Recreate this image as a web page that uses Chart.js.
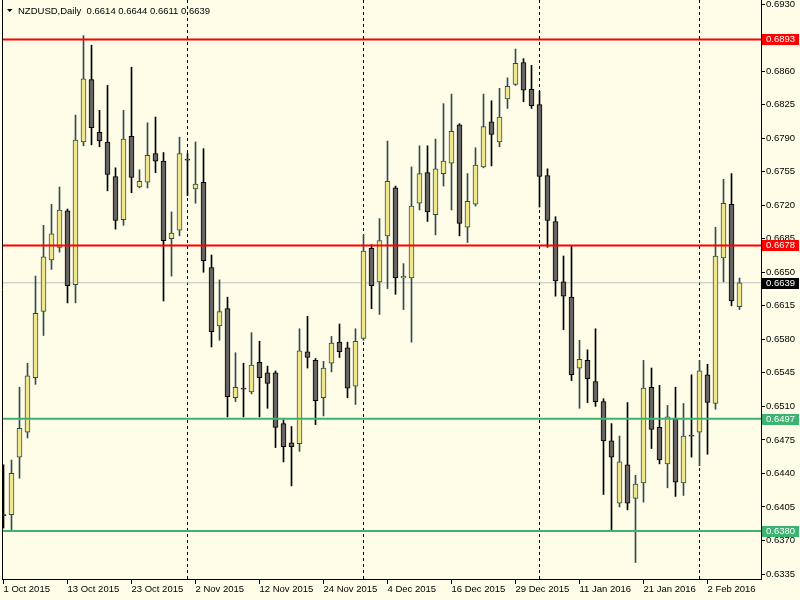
<!DOCTYPE html>
<html><head><meta charset="utf-8">
<script src="https://cdn.jsdelivr.net/npm/chart.js@4/dist/chart.umd.min.js"></script>
<style>html,body{margin:0;padding:0;background:#FFFDE8;}canvas{display:block}</style>
</head><body>
<div style="width:800px;height:600px"><canvas id="c" width="800" height="600"></canvas></div>
<script>
const chartTitle = 'NZDUSD,Daily';
const opens  = [0.6397,0.6397,0.6457,0.6483,0.6540,0.6609,0.6663,0.6676,0.6714,0.6637,0.6786,0.6851,0.6796,0.6786,0.6750,0.6705,0.6792,0.6739,0.6744,0.6774,0.6766,0.6685,0.6694,0.6767,0.6737,0.6744,0.6655,0.6594,0.6612,0.6519,0.6528,0.6525,0.6556,0.6545,0.6545,0.6492,0.6472,0.6471,0.6567,0.6558,0.6519,0.6555,0.6577,0.6571,0.6531,0.6581,0.6675,0.6640,0.6688,0.6738,0.6644,0.6644,0.6722,0.6754,0.6710,0.6753,0.6764,0.6804,0.6697,0.6721,0.6760,0.6807,0.6786,0.6831,0.6846,0.6869,0.6841,0.6825,0.6751,0.6703,0.6640,0.6624,0.6550,0.6558,0.6536,0.6515,0.6474,0.6409,0.6449,0.6414,0.6430,0.6530,0.6488,0.6450,0.6497,0.6430,0.6480,0.6483,0.6543,0.6513,0.6665,0.6721,0.6614];
const highs  = [0.6449,0.6454,0.6530,0.6555,0.6646,0.6699,0.6721,0.6739,0.6716,0.6814,0.6897,0.6887,0.6819,0.6845,0.6759,0.6819,0.6864,0.6757,0.6806,0.6812,0.6775,0.6713,0.6791,0.6774,0.6786,0.6779,0.6668,0.6642,0.6624,0.6566,0.6555,0.6587,0.6578,0.6552,0.6547,0.6496,0.6489,0.6591,0.6604,0.6560,0.6557,0.6583,0.6596,0.6577,0.6591,0.6689,0.6679,0.6706,0.6787,0.6740,0.6659,0.6760,0.6782,0.6782,0.6789,0.6826,0.6836,0.6805,0.6753,0.6780,0.6836,0.6829,0.6842,0.6853,0.6883,0.6873,0.6866,0.6839,0.6758,0.6708,0.6667,0.6678,0.6579,0.6569,0.6591,0.6518,0.6492,0.6479,0.6514,0.6438,0.6558,0.6550,0.6532,0.6511,0.6530,0.6513,0.6543,0.6558,0.6554,0.6697,0.6747,0.6753,0.6644];
const lows   = [0.6383,0.6381,0.6435,0.6477,0.6533,0.6584,0.6653,0.6671,0.6618,0.6618,0.6782,0.6783,0.6781,0.6735,0.6695,0.6699,0.6733,0.6738,0.6738,0.6754,0.6620,0.6646,0.6688,0.6730,0.6722,0.6650,0.6572,0.6579,0.6499,0.6515,0.6499,0.6523,0.6499,0.6508,0.6467,0.6452,0.6427,0.6463,0.6550,0.6491,0.6500,0.6546,0.6561,0.6519,0.6512,0.6579,0.6612,0.6606,0.6633,0.6627,0.6611,0.6577,0.6715,0.6703,0.6689,0.6740,0.6715,0.6688,0.6681,0.6719,0.6759,0.6761,0.6781,0.6821,0.6845,0.6828,0.6821,0.6718,0.6676,0.6625,0.6590,0.6537,0.6508,0.6514,0.6510,0.6418,0.6381,0.6405,0.6402,0.6347,0.6410,0.6466,0.6450,0.6425,0.6416,0.6417,0.6457,0.6448,0.6460,0.6507,0.6640,0.6615,0.6611];
const closes = [0.6396,0.6440,0.6487,0.6542,0.6607,0.6666,0.6690,0.6715,0.6636,0.6788,0.6852,0.6801,0.6787,0.6752,0.6704,0.6789,0.6749,0.6745,0.6772,0.6766,0.6683,0.6691,0.6774,0.6767,0.6742,0.6662,0.6588,0.6609,0.6520,0.6530,0.6528,0.6553,0.6540,0.6534,0.6488,0.6468,0.6468,0.6568,0.6561,0.6516,0.6550,0.6576,0.6567,0.6529,0.6578,0.6672,0.6636,0.6683,0.6745,0.6644,0.6646,0.6719,0.6753,0.6713,0.6758,0.6766,0.6797,0.6701,0.6724,0.6762,0.6802,0.6794,0.6812,0.6844,0.6868,0.6840,0.6824,0.6750,0.6704,0.6641,0.6625,0.6543,0.6559,0.6539,0.6515,0.6474,0.6457,0.6452,0.6409,0.6429,0.6529,0.6486,0.6454,0.6499,0.6431,0.6479,0.6479,0.6547,0.6514,0.6667,0.6722,0.6620,0.6639];
const xTickIndex  = [0,8,16,24,32,40,48,56,64,72,80,88];
const xTickLabels = ['1 Oct 2015','13 Oct 2015','23 Oct 2015','2 Nov 2015','12 Nov 2015','24 Nov 2015','4 Dec 2015','16 Dec 2015','29 Dec 2015','11 Jan 2016','21 Jan 2016','2 Feb 2016'];
const yTicks = [0.6335,0.6370,0.6405,0.6440,0.6475,0.6510,0.6545,0.6580,0.6615,0.6650,0.6685,0.6720,0.6755,0.6790,0.6825,0.6860,0.6895,0.6930];
const separatorIndex = [23,45,67,87];
const resistanceLevels = [0.6893,0.6678];
const supportLevels = [0.6497,0.6380];
const lastPrice = 0.6639;

const BG = '#FFFDE8';
const FONT = '9.5px "Liberation Sans", Arial, sans-serif';
const BULL_FILL = '#F0E68C', BEAR_FILL = '#646464', BULL_LINE = '#2F4F4F', BEAR_LINE = '#000000';
const isBull = i => closes[i] > opens[i];
const XMIN = -0.1875, XMAX = 94.6875;

const levelDataset = (v, color, order) => ({
  type: 'line', data: [{x: XMIN - 1, y: v}, {x: XMAX + 1, y: v}],
  borderColor: color, borderWidth: color === '#C0C0C0' ? 1 : 2, pointRadius: 0, clip: 0, order
});

const chartPlugin = {
  id: 'mt4',
  beforeDraw(chart) {
    const ctx = chart.ctx; ctx.save(); ctx.fillStyle = BG; ctx.fillRect(0, 0, chart.width, chart.height); ctx.restore();
  },
  beforeDatasetsDraw(chart) {
    const {ctx, chartArea: a, scales: {x}} = chart;
    ctx.save(); ctx.strokeStyle = '#000'; ctx.lineWidth = 1; ctx.setLineDash([3, 3]);
    separatorIndex.forEach(i => {
      const px = Math.floor(x.getPixelForValue(i)) + 0.5;
      ctx.beginPath(); ctx.moveTo(px, a.top); ctx.lineTo(px, a.bottom); ctx.stroke();
    });
    ctx.restore();
  },
  afterDraw(chart) {
    const {ctx, chartArea: a, scales: {y}} = chart;
    ctx.save();
    ctx.strokeStyle = '#000'; ctx.lineWidth = 1;
    ctx.beginPath(); ctx.moveTo(a.left + 0.5, a.top); ctx.lineTo(a.left + 0.5, a.bottom); ctx.stroke();
    // header
    ctx.fillStyle = '#000';
    ctx.beginPath(); ctx.moveTo(7, 9); ctx.lineTo(12.5, 9); ctx.lineTo(9.75, 12); ctx.closePath(); ctx.fill();
    ctx.font = FONT; ctx.textBaseline = 'alphabetic'; ctx.textAlign = 'left';
    const n = closes.length - 1;
    ctx.fillText(chartTitle + '  ' + [opens[n], highs[n], lows[n], closes[n]].map(v => v.toFixed(4)).join(' '), 18, 14);
    // price boxes
    const boxes = resistanceLevels.map(v => [v, '#FF0000']).concat(supportLevels.map(v => [v, '#3CB371'])).concat([[lastPrice, '#000000']]);
    ctx.textBaseline = 'middle';
    boxes.forEach(([v, c]) => {
      const py = Math.round(y.getPixelForValue(v));
      ctx.fillStyle = c; ctx.fillRect(a.right + 1, py - 5, 37, 11);
      ctx.fillStyle = '#FFFFFF'; ctx.fillText(v.toFixed(4), a.right + 5, py + 0.5);
    });
    ctx.restore();
  }
};

new Chart(document.getElementById('c'), {
  type: 'bar',
  data: {
    datasets: [
      ...resistanceLevels.map(v => levelDataset(v, '#FF0000', -1)),
      ...supportLevels.map(v => levelDataset(v, '#3CB371', -1)),
      {
        type: 'bar', order: 0, clip: 0,
        data: opens.map((o, i) => ({x: i, y: [o, closes[i]]})),
        backgroundColor: opens.map((o, i) => isBull(i) ? BULL_FILL : BEAR_FILL),
        borderColor: opens.map((o, i) => isBull(i) ? BULL_LINE : BEAR_LINE),
        borderWidth: 1, borderSkipped: false, barThickness: 5, grouped: false, minBarLength: 1
      },
      {
        type: 'bar', order: 1, clip: 0,
        data: lows.map((l, i) => ({x: i, y: [l, highs[i]]})),
        backgroundColor: lows.map((l, i) => isBull(i) ? BULL_LINE : BEAR_LINE),
        borderWidth: 0, barThickness: 1, grouped: false
      },
      levelDataset(lastPrice, '#C0C0C0', 2)
    ]
  },
  options: {
    responsive: false, animation: false, devicePixelRatio: 1,
    layout: {padding: {left: 2, top: 0, right: 0, bottom: 0}},
    plugins: {legend: {display: false}, tooltip: {enabled: false}},
    scales: {
      x: {
        type: 'linear', position: 'bottom', min: XMIN, max: XMAX, offset: false,
        afterFit: s => { s.height = 21; s.paddingLeft = 0; s.paddingRight = 0; },
        afterBuildTicks: s => { s.ticks = xTickIndex.map(v => ({value: v})); },
        ticks: {
          autoSkip: false, maxRotation: 0, minRotation: 0, align: 'start', padding: 0,
          color: '#000', font: {family: '"Liberation Sans", Arial, sans-serif', size: 9.5},
          callback: v => xTickLabels[xTickIndex.indexOf(v)]
        },
        grid: {offset: false, drawOnChartArea: false, drawTicks: true, tickLength: 5, color: '#000'},
        border: {display: true, color: '#000', width: 1}
      },
      y: {
        type: 'linear', position: 'right', min: 0.63298, max: 0.69342, beginAtZero: false,
        afterFit: s => { s.width = 39; s.paddingTop = 0; s.paddingBottom = 0; },
        afterBuildTicks: s => { s.ticks = yTicks.map(v => ({value: v})); },
        ticks: {
          autoSkip: false, padding: 1, color: '#000',
          font: {family: '"Liberation Sans", Arial, sans-serif', size: 9.5},
          callback: v => v.toFixed(4)
        },
        grid: {drawOnChartArea: false, drawTicks: true, tickLength: 4, color: '#000'},
        border: {display: true, color: '#000', width: 1}
      }
    }
  },
  plugins: [chartPlugin]
});
</script>
</body></html>
